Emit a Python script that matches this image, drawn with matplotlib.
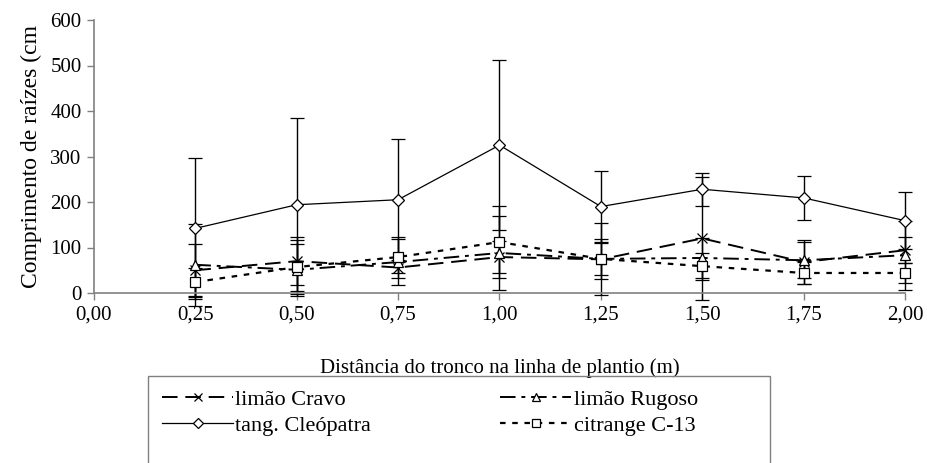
import matplotlib
matplotlib.use("Agg")
import matplotlib.pyplot as plt
from matplotlib.patches import Rectangle

plt.rcParams['font.family'] = ['Liberation Serif', 'DejaVu Serif']
plt.rcParams['font.size'] = 15

# distances along the planting line (m)
dist = [0.25, 0.50, 0.75, 1.00, 1.25, 1.50, 1.75, 2.00]
tick_vals = [0.0, 0.25, 0.50, 0.75, 1.00, 1.25, 1.50, 1.75, 2.00]
tick_labels = ['0,00', '0,25', '0,50', '0,75', '1,00', '1,25', '1,50', '1,75', '2,00']

cravo = [50, 70, 56, 79, 74, 120, 68, 94]
cravo_err = [58, 53, 12, 35, 44, 135, 48, 28]
rugoso = [62, 51, 68, 88, 75, 77, 72, 83]
rugoso_err = [90, 57, 50, 81, 79, 44, 40, 76]
cleo = [142, 194, 205, 325, 190, 228, 209, 159]
cleo_err = [155, 190, 133, 187, 78, 36, 48, 62]
citrange = [24, 57, 79, 112, 75, 59, 44, 44]
citrange_err = [30, 59, 45, 79, 35, 30, 25, 22]

fig = plt.figure(figsize=(9.27, 4.63), dpi=100)
ax = fig.add_axes([94 / 927, 1 - 293 / 463, (905 - 94) / 927, (293 - 20) / 463])

series = [
    (cravo, cravo_err, 'limão Cravo', 'x', (0, (8, 4)), 1.4),
    (rugoso, rugoso_err, 'limão Rugoso', '^', (0, (8, 3, 2, 3)), 1.4),
    (cleo, cleo_err, 'tang. Cleópatra', 'D', '-', 0.9),
    (citrange, citrange_err, 'citrange C-13', 's', (0, (2.5, 3)), 1.6),
]

handles = []
names = []
for vals, err, name, mk, ls, lw in series:
    line, caps, bars = ax.errorbar(dist, vals, yerr=err, color='black', ecolor='black',
                                   elinewidth=1, capsize=5, capthick=1, linestyle=ls,
                                   linewidth=lw, marker=mk,
                                   markersize=7 if mk != 'D' else 6,
                                   markerfacecolor='white', markeredgecolor='black',
                                   markeredgewidth=0.9)
    line.set_clip_on(False)
    for c in caps:
        c.set_clip_on(False)
    for b in bars:
        b.set_clip_on(False)
    handles.append(line)
    names.append(name)

ax.set_xlim(0, 2.0)
ax.set_ylim(0, 600)
ax.set_xticks(tick_vals)
ax.set_xticklabels(tick_labels)
ax.set_yticks(range(0, 601, 100))
for side in ['top', 'right']:
    ax.spines[side].set_visible(False)
for side in ['left', 'bottom']:
    ax.spines[side].set_color('#808080')
    ax.spines[side].set_linewidth(1.2)
ax.tick_params(direction='out', length=5, color='#808080', width=1, labelsize=15, pad=4)

ax.set_ylabel('Comprimento de raízes (cm', fontsize=17, labelpad=6)
ax.set_xlabel('Distância do tronco na linha de plantio (m)', fontsize=15, labelpad=24)

# legend box runs past the bottom edge of the figure
fig.patches.append(Rectangle((148 / 927, -0.1), (770 - 148) / 927, 0.1 + 1 - 376 / 463,
                             transform=fig.transFigure, fill=False,
                             edgecolor='#808080', linewidth=1))
order = [0, 2, 1, 3]
leg = fig.legend([handles[i] for i in order], [names[i] for i in order],
                 loc='upper left', bbox_to_anchor=(151 / 927, 1 - 378 / 463),
                 ncol=2, frameon=False, handlelength=3.2, handletextpad=0.1,
                 columnspacing=5.8, labelspacing=0.25, borderpad=0,
                 fontsize=16, markerscale=0.8)
for t in leg.get_texts():
    t.set_fontfamily(['Liberation Serif', 'DejaVu Serif'])

fig.savefig('out.png', dpi=100)
